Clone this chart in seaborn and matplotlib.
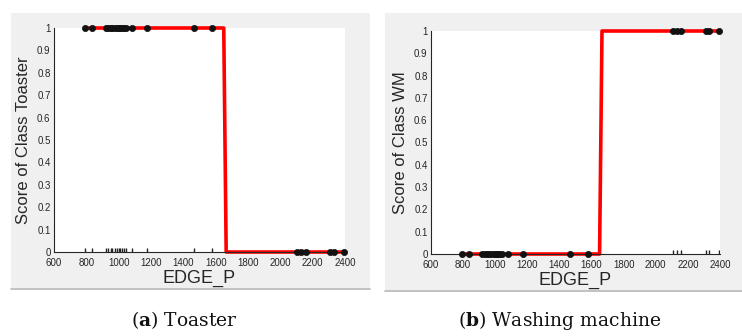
import matplotlib
matplotlib.use("Agg")
import matplotlib.pyplot as plt
import seaborn as sns
import pandas as pd
from matplotlib.patches import Rectangle
from matplotlib.lines import Line2D

# ---- data ----
toaster_x = [790, 835, 920, 935, 950, 960, 975, 990, 1000, 1010, 1020, 1030, 1045, 1080, 1175, 1465, 1575]
wm_x = [2105, 2130, 2160, 2310, 2330, 2395]
step_x = [790, 1650, 1665, 2400]
toaster_score = [1, 1, 0, 0]
wm_score = [0, 0, 1, 1]
x_ticks = [600, 800, 1000, 1200, 1400, 1600, 1800, 2000, 2200, 2400]
y_ticks = [0, 0.1, 0.2, 0.3, 0.4, 0.5, 0.6, 0.7, 0.8, 0.9, 1]
y_labels = ["0", "0.1", "0.2", "0.3", "0.4", "0.5", "0.6", "0.7", "0.8", "0.9", "1"]
panels = [
    ("Score of Class Toaster", toaster_score, "a", "Toaster", toaster_x),
    ("Score of Class WM", wm_score, "b", "Washing machine", wm_x),
]

sns.set_style("white")
plt.rcParams["font.family"] = ["Liberation Sans", "DejaVu Sans"]
plt.rcParams["mathtext.fontset"] = "dejavuserif"

W, H = 742, 336
fig = plt.figure(figsize=(W / 100, H / 100), dpi=100)

def fx(px):
    return px / W

def fy(py):
    return 1 - py / H

# gray panel backgrounds
for (x0, x1, y0, y1) in [(11, 370, 13, 288), (385, 742, 13, 290)]:
    fig.patches.append(Rectangle((fx(x0), fy(y1)), fx(x1 - x0), (y1 - y0) / H,
                                 transform=fig.transFigure, facecolor="#f0f0f0",
                                 edgecolor="none", zorder=-10))
    fig.lines.append(Line2D([fx(x0), fx(x1)], [fy(y1 + 1), fy(y1 + 1)],
                            transform=fig.transFigure, color="#b8b8b8", lw=1.2,
                            zorder=-9))

axes_px = [(54, 345, 28, 252), (431, 720, 31, 254)]
caption_x = [184, 560]

for i, (ylabel, scores, letter, cap, rug_x) in enumerate(panels):
    l, r, t, b = axes_px[i]
    ax = fig.add_axes([fx(l), fy(b), fx(r - l), (b - t) / H])
    ax.set_facecolor("white")
    pts = pd.DataFrame({
        "x": toaster_x + wm_x,
        "y": [scores[0]] * len(toaster_x) + [scores[-1]] * len(wm_x),
    })
    sns.lineplot(x=step_x, y=scores, ax=ax, color="#ff0000", lw=2.6, zorder=2,
                 estimator=None, sort=False)
    sns.scatterplot(data=pts, x="x", y="y", ax=ax, color="#111111", s=20,
                    edgecolor="#111111", linewidth=0.5, zorder=3, clip_on=False)
    sns.rugplot(x=rug_x, ax=ax, height=0.018, color="#222222", lw=0.7)
    for ln in ax.lines:
        ln.set_clip_on(False)
    ax.set_xlim(600, 2400)
    ax.set_ylim(0, 1)
    ax.set_xticks(x_ticks)
    ax.set_xticklabels([str(v) for v in x_ticks])
    ax.set_yticks(y_ticks)
    ax.set_yticklabels(y_labels)
    ax.tick_params(direction="in", length=3.5, width=0.7, colors="#262626",
                   labelsize=7, pad=2.5)
    ax.tick_params(axis="x", pad=4.5)
    for s in ["top", "right"]:
        ax.spines[s].set_visible(False)
    for s in ["left", "bottom"]:
        ax.spines[s].set_color("#262626")
        ax.spines[s].set_linewidth(0.8)
    ax.set_xlabel("EDGE_P", fontsize=13, color="#262626", labelpad=1)
    ax.set_ylabel(ylabel, fontsize=12, color="#262626", labelpad=4)
    fig.text(fx(caption_x[i]), fy(320),
             r"($\mathbf{" + letter + r"}$) " + cap,
             ha="center", va="center", fontsize=13.5, family=["DejaVu Serif"],
             color="#111111")

fig.savefig("out.png", dpi=100)
